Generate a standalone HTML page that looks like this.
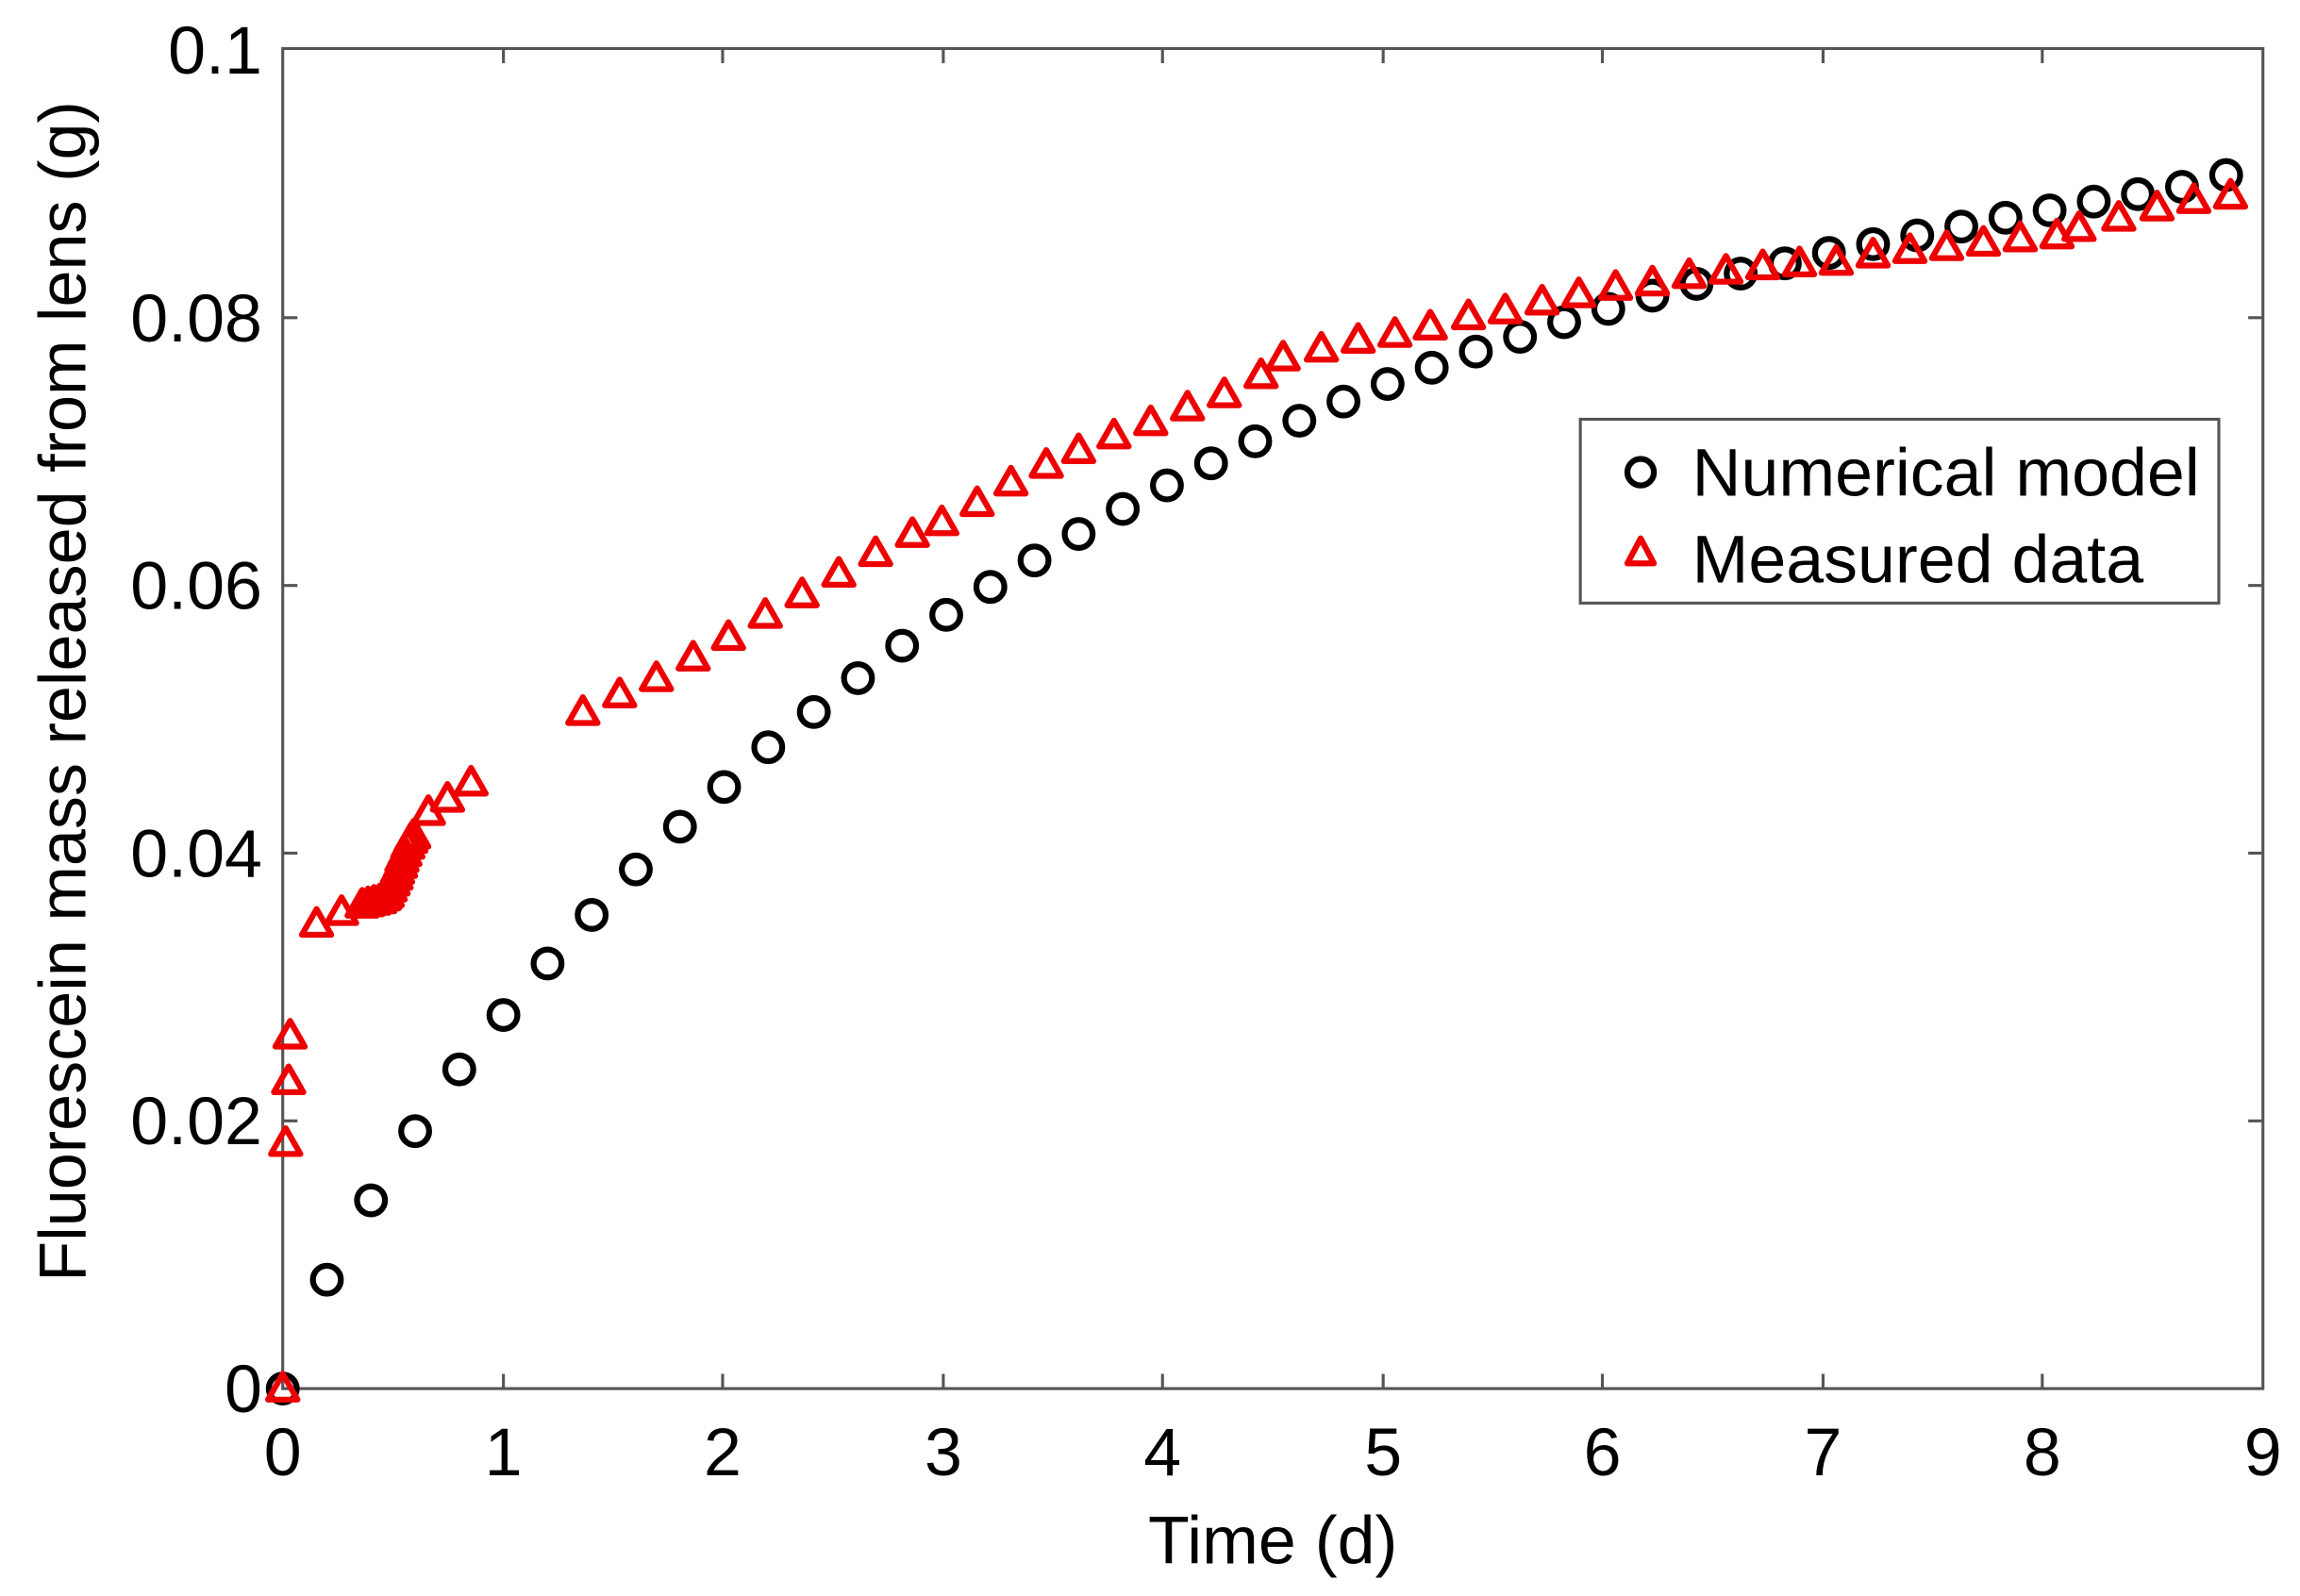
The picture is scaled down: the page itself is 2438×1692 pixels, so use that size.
<!DOCTYPE html>
<html><head><meta charset="utf-8"><style>html,body{margin:0;padding:0;background:#fff}svg{display:block}</style></head>
<body>
<svg width="2438" height="1692" viewBox="0 0 1563 1085" xmlns="http://www.w3.org/2000/svg" font-family="Liberation Sans, Arial, sans-serif">
<rect x="0" y="0" width="1563" height="1085" fill="#fff"/>
<g stroke="#555" stroke-width="2" fill="none">
<rect x="192" y="33" width="1346" height="911"/>
<path d="M342,944v-10M491,944v-10M641,944v-10M790,944v-10M940,944v-10M1089,944v-10M1239,944v-10M1388,944v-10
M342,33v10M491,33v10M641,33v10M790,33v10M940,33v10M1089,33v10M1239,33v10M1388,33v10
M192,762h10M192,580h10M192,398h10M192,216h10
M1538,762h-10M1538,580h-10M1538,398h-10M1538,216h-10"/>
</g>
<g font-size="46" fill="#000" text-anchor="end">
<text x="178" y="960">0</text><text x="178" y="778">0.02</text><text x="178" y="596">0.04</text><text x="178" y="414">0.06</text><text x="178" y="232">0.08</text><text x="178" y="50">0.1</text>
</g>
<g font-size="46" fill="#000" text-anchor="middle">
<text x="192" y="1003">0</text><text x="342" y="1003">1</text><text x="491" y="1003">2</text><text x="641" y="1003">3</text><text x="790" y="1003">4</text><text x="940" y="1003">5</text><text x="1089" y="1003">6</text><text x="1239" y="1003">7</text><text x="1388" y="1003">8</text><text x="1538" y="1003">9</text>
<text x="865" y="1063">Time (d)</text>
<text transform="translate(58,470) rotate(-90)" font-size="45">Fluorescein mass released from lens (g)</text>
</g>
<g id="circ" stroke="#000" stroke-width="4" fill="none">
</g>
<g id="tri" stroke="#e00" stroke-width="4" fill="none" stroke-linejoin="round">
</g>
<script>
var c=[[192,944],[222,870],[252,816],[282,769],[312,727],[342,690],[372,655],[402,622],[432,591],[462,562],[492,535],[522,508],[553,484],[583,461],[613,439],[643,418],[673,399],[703,381],[733,363],[763,346],[793,330],[823,315],[853,300],[883,286],[913,273],[943,261],[973,250],[1003,239],[1033,229],[1063,219],[1093,210],[1123,201],[1153,193],[1183,186],[1213,179],[1243,172],[1273,166],[1303,160],[1333,154],[1363,148],[1393,143],[1423,137],[1453,132],[1483,127],[1513,119]];
var t=[[192,944],[194,777],[196,735],[197,704],[215,628],[232,620],[246,615],[250,614],[254,613],[258,612],[261,610],[263,608],[265,604],[267,600],[269,596],[270,592],[272,588],[273,584],[275,580],[277,575],[279,571],[281,568],[291,552],[304,543],[320,532],[396,484],[421,472],[446,461],[471,447],[495,433],[520,418],[545,404],[570,390],[595,376],[620,363],[640,355],[664,342],[687,328],[711,316],[733,306],[757,296],[782,287],[807,277],[832,268],[857,255],[872,243],[898,237],[923,231],[948,227],[972,222],[998,215],[1023,211],[1048,205],[1073,200],[1098,195],[1123,192],[1148,187],[1173,184],[1198,181],[1223,179],[1248,178],[1273,173],[1298,170],[1323,168],[1348,165],[1373,162],[1398,160],[1413,155],[1440,148],[1466,141],[1491,136],[1516,133]];
var ns="http://www.w3.org/2000/svg",gc=document.getElementById('circ'),gt=document.getElementById('tri');
c.forEach(function(p){var e=document.createElementNS(ns,'circle');e.setAttribute('cx',p[0]);e.setAttribute('cy',p[1]);e.setAttribute('r',9.5);gc.appendChild(e);});
t.forEach(function(p){var e=document.createElementNS(ns,'path');var x=p[0],y=p[1];e.setAttribute('d','M'+x+','+(y-10)+'L'+(x+10)+','+(y+7.5)+'L'+(x-10)+','+(y+7.5)+'Z');gt.appendChild(e);});
</script>
<rect x="1074" y="285" width="434" height="125" fill="#fff" stroke="#555" stroke-width="2"/>
<circle cx="1115" cy="321" r="9" fill="none" stroke="#000" stroke-width="4"/>
<path d="M1115,366L1124,383L1106,383Z" fill="none" stroke="#e00" stroke-width="4" stroke-linejoin="round"/>
<g font-size="46" fill="#000"><text x="1150" y="337">Numerical model</text><text x="1150" y="396">Measured data</text></g>
</svg>
</body></html>
